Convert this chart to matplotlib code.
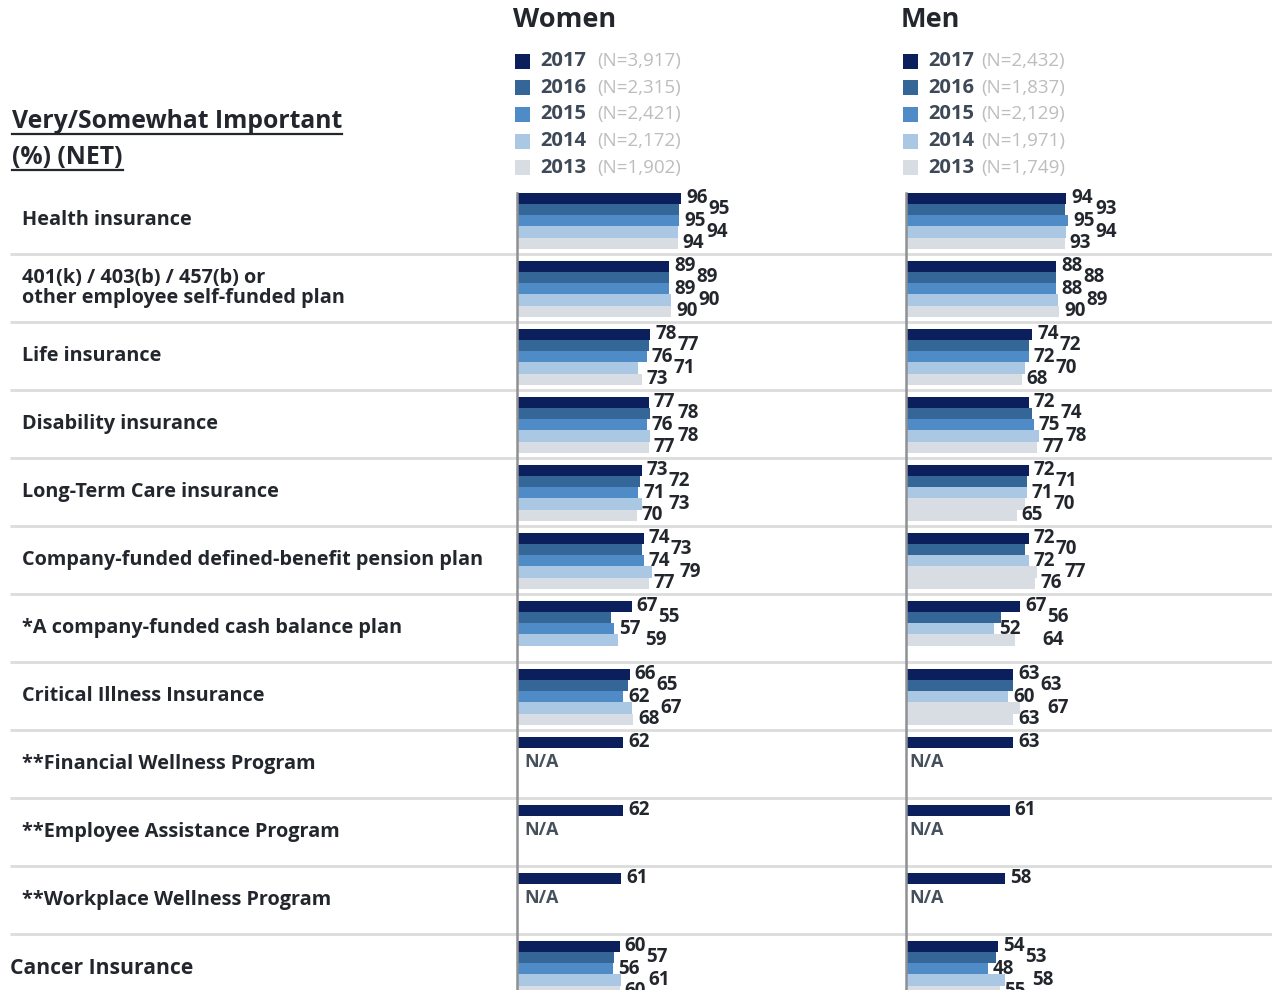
import matplotlib.pyplot as plt
from matplotlib.patches import Rectangle
from matplotlib.lines import Line2D

W, H = 1272, 990

categories = ['Health insurance',
              '401(k) / 403(b) / 457(b) or\nother employee self-funded plan',
              'Life insurance',
              'Disability insurance',
              'Long-Term Care insurance',
              'Company-funded defined-benefit pension plan',
              '*A company-funded cash balance plan',
              'Critical Illness Insurance',
              '**Financial Wellness Program',
              '**Employee Assistance Program',
              '**Workplace Wellness Program',
              'Cancer Insurance']

years = ['2017', '2016', '2015', '2014', '2013']
women_n = ['3,917', '2,315', '2,421', '2,172', '1,902']
men_n = ['2,432', '1,837', '2,129', '1,971', '1,749']

# percent very/somewhat important, one list per survey year (None = not asked)
women_2017 = [96, 89, 78, 77, 73, 74, 67, 66, 62, 62, 61, 60]
women_2016 = [95, 89, 77, 78, 72, 73, 55, 65, None, None, None, 57]
women_2015 = [95, 89, 76, 76, 71, 74, 57, 62, None, None, None, 56]
women_2014 = [94, 90, 71, 78, 73, 79, 59, 67, None, None, None, 61]
women_2013 = [94, 90, 73, 77, 70, 77, None, 68, None, None, None, 60]

men_2017 = [94, 88, 74, 72, 72, 72, 67, 63, 63, 61, 58, 54]
men_2016 = [93, 88, 72, 74, 71, 70, 56, 63, None, None, None, 53]
men_2015 = [95, 88, 72, 75, 71, 72, 52, 60, None, None, None, 48]
men_2014 = [94, 89, 70, 78, 70, 77, 64, 67, None, None, None, 58]
men_2013 = [93, 90, 68, 77, 65, 76, None, 63, None, None, None, 55]

c2017, c2016, c2015, c2014, c2013 = '#0B1F5C', '#346797', '#4F8BC6', '#AAC7E4', '#D8DCE3'
palette = [c2017, c2016, c2015, c2014, c2013]
# the men's panel uses a shifted palette on a few rows
men_shifted = [c2017, c2016, c2014, c2013, c2013]

FONT = 'Open Sans'
TXT = '#23272D'
PX_PER_PCT = 1.71
ROW_PX = 68
TOP = 186
N_ROWS = len(categories)
BOTTOM = TOP + ROW_PX * N_ROWS
BAR_OFF = 6.5 / ROW_PX
BAR_H = 11.3 / ROW_PX
NEAR_DX = 5    # px gap for labels sitting right at their bar
FAR_DX = 27    # px gap for the staggered second column


def fx(px):
    return px / W


def fy(py):
    return 1 - py / H


fig = plt.figure(figsize=(W / 100, H / 100), dpi=100)

# background axes: row separators and category labels
bg = fig.add_axes([0, fy(BOTTOM), 1, (BOTTOM - TOP) / H])
bg.set_xlim(0, W)
bg.set_ylim(N_ROWS, 0)
bg.axis('off')
for k in range(1, N_ROWS):
    bg.plot([10, W], [k, k], color='#DCDCDC', lw=2, solid_capstyle='butt')
for i, cat in enumerate(categories):
    if i == N_ROWS - 1:
        bg.text(10, i + 0.5, cat, fontsize=15.2, fontfamily=FONT, fontweight='bold',
                color=TXT, va='center', ha='left')
    else:
        bg.text(22, i + 0.5, cat, fontsize=14.3, fontfamily=FONT, fontweight='bold',
                color=TXT, va='center', ha='left', linespacing=0.95)


def draw_panel(left_px, right_px, series, shifted_rows, colors_shift, na_x):
    ax = fig.add_axes([fx(left_px), fy(BOTTOM), (right_px - left_px) / W, (BOTTOM - TOP) / H])
    ax.patch.set_alpha(0)
    ax.set_xlim(0, (right_px - left_px) / PX_PER_PCT)
    ax.set_ylim(N_ROWS, 0)
    for j, vals in enumerate(series):
        for i, v in enumerate(vals):
            if v is None:
                continue
            color = colors_shift[j] if i in shifted_rows else palette[j]
            y = i + BAR_OFF + BAR_H * (j + 0.5)
            ax.barh(y, v, height=BAR_H, color=color, linewidth=0)
            if j % 2 == 0:
                lx = v + NEAR_DX / PX_PER_PCT
            else:
                # push past the labels of the neighbouring bars
                near = [series[k][i] for k in (j - 1, j, j + 1)
                        if 0 <= k < len(series) and series[k][i] is not None]
                lx = max(near) + FAR_DX / PX_PER_PCT
            ax.text(lx, y, str(v), fontsize=13.5, fontfamily=FONT,
                    fontweight='bold', color=TXT, va='center', ha='left')
    for i in range(N_ROWS):
        if all(s[i] is None for s in series[1:]):
            ax.text(na_x, i + 0.47, 'N/A', fontsize=13, fontfamily=FONT, fontweight='bold',
                    color='#45505C', va='center', ha='left')
    for side in ['top', 'right', 'bottom']:
        ax.spines[side].set_visible(False)
    ax.spines['left'].set_color('#8E9093')
    ax.spines['left'].set_linewidth(1.8)
    ax.spines['left'].set_bounds(BAR_OFF, N_ROWS)
    ax.set_xticks([])
    ax.set_yticks([])
    return ax


draw_panel(517, 890, [women_2017, women_2016, women_2015, women_2014, women_2013],
           [], palette, 4.5)
draw_panel(905.5, W, [men_2017, men_2016, men_2015, men_2014, men_2013],
           [4, 5, 6, 7], men_shifted, 2.0)


def legend(x_px, title, counts, n_gap):
    fig.text(fx(x_px - 2), fy(20), title, fontsize=19.5, fontfamily=FONT, fontweight='bold',
             color='#23272D', va='center', ha='left')
    for k, (yr, n) in enumerate(zip(years, counts)):
        yc = 61 + 26.7 * k
        fig.add_artist(Rectangle((fx(x_px), fy(yc + 7.5)), 15 / W, 15 / H,
                                 transform=fig.transFigure, color=palette[k], lw=0))
        fig.text(fx(x_px + 25), fy(yc), yr, fontsize=14.5, fontfamily=FONT, fontweight='bold',
                 color='#3E4957', va='center', ha='left')
        fig.text(fx(x_px + 25 + n_gap), fy(yc), f'(N={n})', fontsize=13.5, fontfamily=FONT,
                 color='#BDBDBD', va='center', ha='left')


legend(515, 'Women', women_n, 57)
legend(903, 'Men', men_n, 53)

# underlined heading
t1 = fig.text(fx(12), fy(122), 'Very/Somewhat Important', fontsize=17.8, fontfamily=FONT,
              fontweight='bold', color=TXT, va='center', ha='left')
t2 = fig.text(fx(12), fy(157), '(%) (NET)', fontsize=17.8, fontfamily=FONT,
              fontweight='bold', color=TXT, va='center', ha='left')
fig.canvas.draw()
r = fig.canvas.get_renderer()
for t, uy in [(t1, 134), (t2, 170)]:
    bb = t.get_window_extent(r)
    fig.add_artist(Line2D([bb.x0 / W, bb.x1 / W], [fy(uy), fy(uy)], transform=fig.transFigure,
                          color=TXT, lw=1.6))

fig.savefig('out.png', dpi=100)
